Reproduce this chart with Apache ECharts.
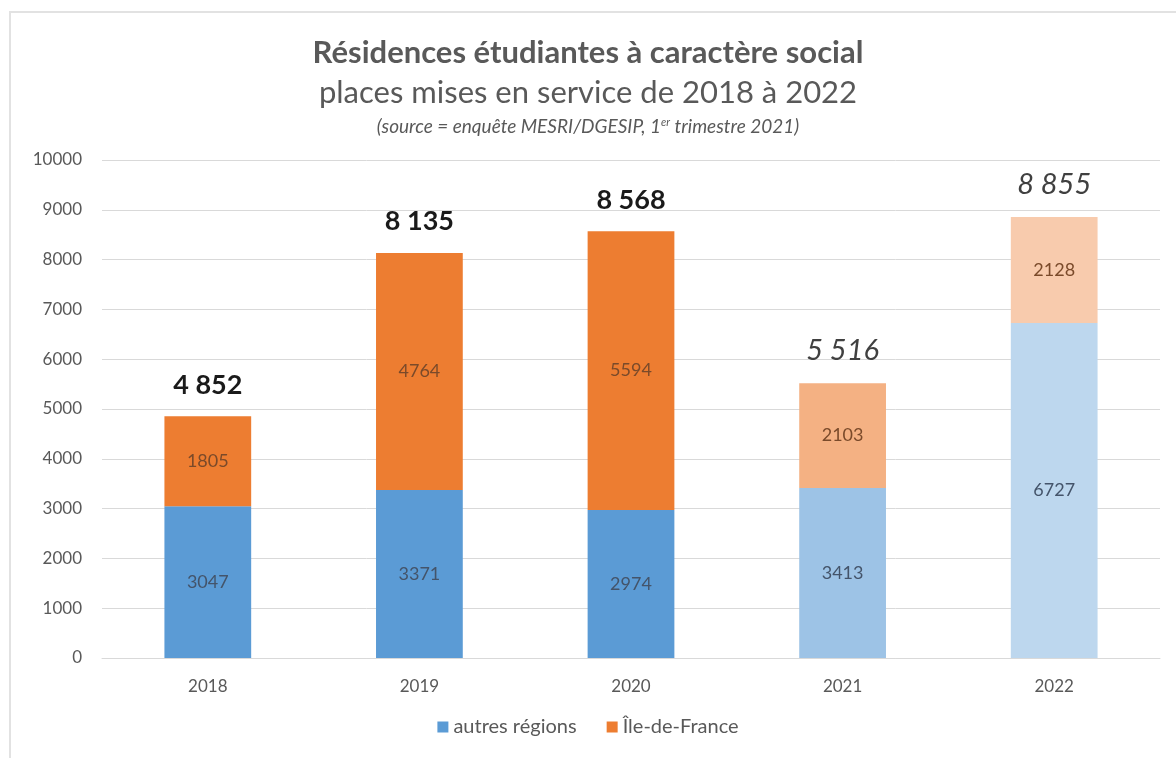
<!DOCTYPE html>
<html><head><meta charset="utf-8">
<script src="https://cdn.jsdelivr.net/npm/echarts@6/dist/echarts.min.js"></script>
<style>html,body{margin:0;padding:0;background:#fff}#c{width:1176px;height:758px}</style>
</head><body><div id="c"></div>
<script>
const categories = ['2018', '2019', '2020', '2021', '2022'];
const autresRegions = [3047, 3371, 2974, 3413, 6727];
const ileDeFrance = [1805, 4764, 5594, 2103, 2128];
const yTicks = [0, 1000, 2000, 3000, 4000, 5000, 6000, 7000, 8000, 9000, 10000];
const projected = [false, false, false, true, true];

const blueColors = ['#5B9BD5', '#5B9BD5', '#5B9BD5', '#9DC3E6', '#BDD7EE'];
const orangeColors = ['#ED7D31', '#ED7D31', '#ED7D31', '#F4B183', '#F8CBAD'];
const totals = autresRegions.map((v, i) => v + ileDeFrance[i]);
const fmt = n => String(n).replace(/\B(?=(\d{3})+(?!\d))/g, ' ');
const FONT = 'Lato';

const chart = echarts.init(document.getElementById('c'));
chart.setOption({
  backgroundColor: '#fff',
  animation: false,
  textStyle: { fontFamily: FONT },
  graphic: [{
    type: 'rect', shape: { x: 10, y: 12, width: 1200, height: 800 },
    style: { fill: 'none', stroke: '#e2e2e2', lineWidth: 2 }, z: -1
  }],
  title: [{
    text: 'Résidences étudiantes à caractère social',
    left: 'center', top: 32,
    textStyle: { fontFamily: FONT, fontSize: 31, fontWeight: 'bold', color: '#595959' }
  }, {
    text: 'places mises en service de 2018 à 2022',
    left: 'center', top: 72,
    textStyle: { fontFamily: FONT, fontSize: 31, fontWeight: 'normal', color: '#595959' }
  }, {
    text: '{a|(source = enquête MESRI/DGESIP, 1}{s|er}{a| trimestre 2021)}',
    left: 'center', top: 112,
    textStyle: {
      fontWeight: 'normal',
      rich: {
        a: { fontFamily: FONT, fontSize: 19, fontStyle: 'italic', fontWeight: 'normal', color: '#595959' },
        s: { fontFamily: FONT, fontSize: 11, fontStyle: 'italic', fontWeight: 'normal', color: '#595959', verticalAlign: 'top', padding: [0, 0, 9, 0] }
      }
    }
  }],
  legend: {
    data: ['autres régions', 'Île-de-France'],
    bottom: 16, left: 'center',
    icon: 'rect', itemWidth: 11, itemHeight: 11, itemGap: 30,
    textStyle: { fontFamily: FONT, fontSize: 20, color: '#595959' }
  },
  grid: { left: 102, right: 16, top: 160, bottom: 100 },
  xAxis: {
    type: 'category', data: categories,
    axisLine: { lineStyle: { color: '#d9d9d9' } },
    axisTick: { show: false },
    axisLabel: { fontFamily: FONT, fontSize: 17, color: '#595959', margin: 20 }
  },
  yAxis: {
    type: 'value', min: 0, max: 10000, interval: 1000,
    axisLine: { show: false }, axisTick: { show: false },
    axisLabel: { fontFamily: FONT, fontSize: 17, color: '#595959', margin: 20,
      formatter: v => yTicks.includes(v) ? String(v) : '' },
    splitLine: { lineStyle: { color: '#d9d9d9' } }
  },
  series: [{
    name: 'autres régions', type: 'bar', stack: 's', barWidth: '41%',
    itemStyle: { color: '#5B9BD5' },
    data: autresRegions.map((v, i) => ({ value: v, itemStyle: { color: blueColors[i] } })),
    label: { show: true, position: 'inside', fontFamily: FONT, fontSize: 18, color: '#44546A' }
  }, {
    name: 'Île-de-France', type: 'bar', stack: 's',
    itemStyle: { color: '#ED7D31' },
    data: ileDeFrance.map((v, i) => ({ value: v, itemStyle: { color: orangeColors[i] } })),
    label: { show: true, position: 'inside', fontFamily: FONT, fontSize: 18, color: '#7a4a2a' }
  }, {
    name: 'total', type: 'bar', stack: 's', silent: true,
    itemStyle: { color: 'transparent' },
    data: totals.map((t, i) => ({
      value: 0,
      label: projected[i]
        ? { fontStyle: 'italic', fontWeight: 'normal', fontSize: 29, color: '#404040' }
        : { fontStyle: 'normal', fontWeight: 'bold', fontSize: 27, color: '#1a1a1a' }
    })),
    label: {
      show: true, position: 'top', distance: 18, fontFamily: FONT,
      formatter: p => fmt(totals[p.dataIndex])
    }
  }]
});
</script></body></html>
